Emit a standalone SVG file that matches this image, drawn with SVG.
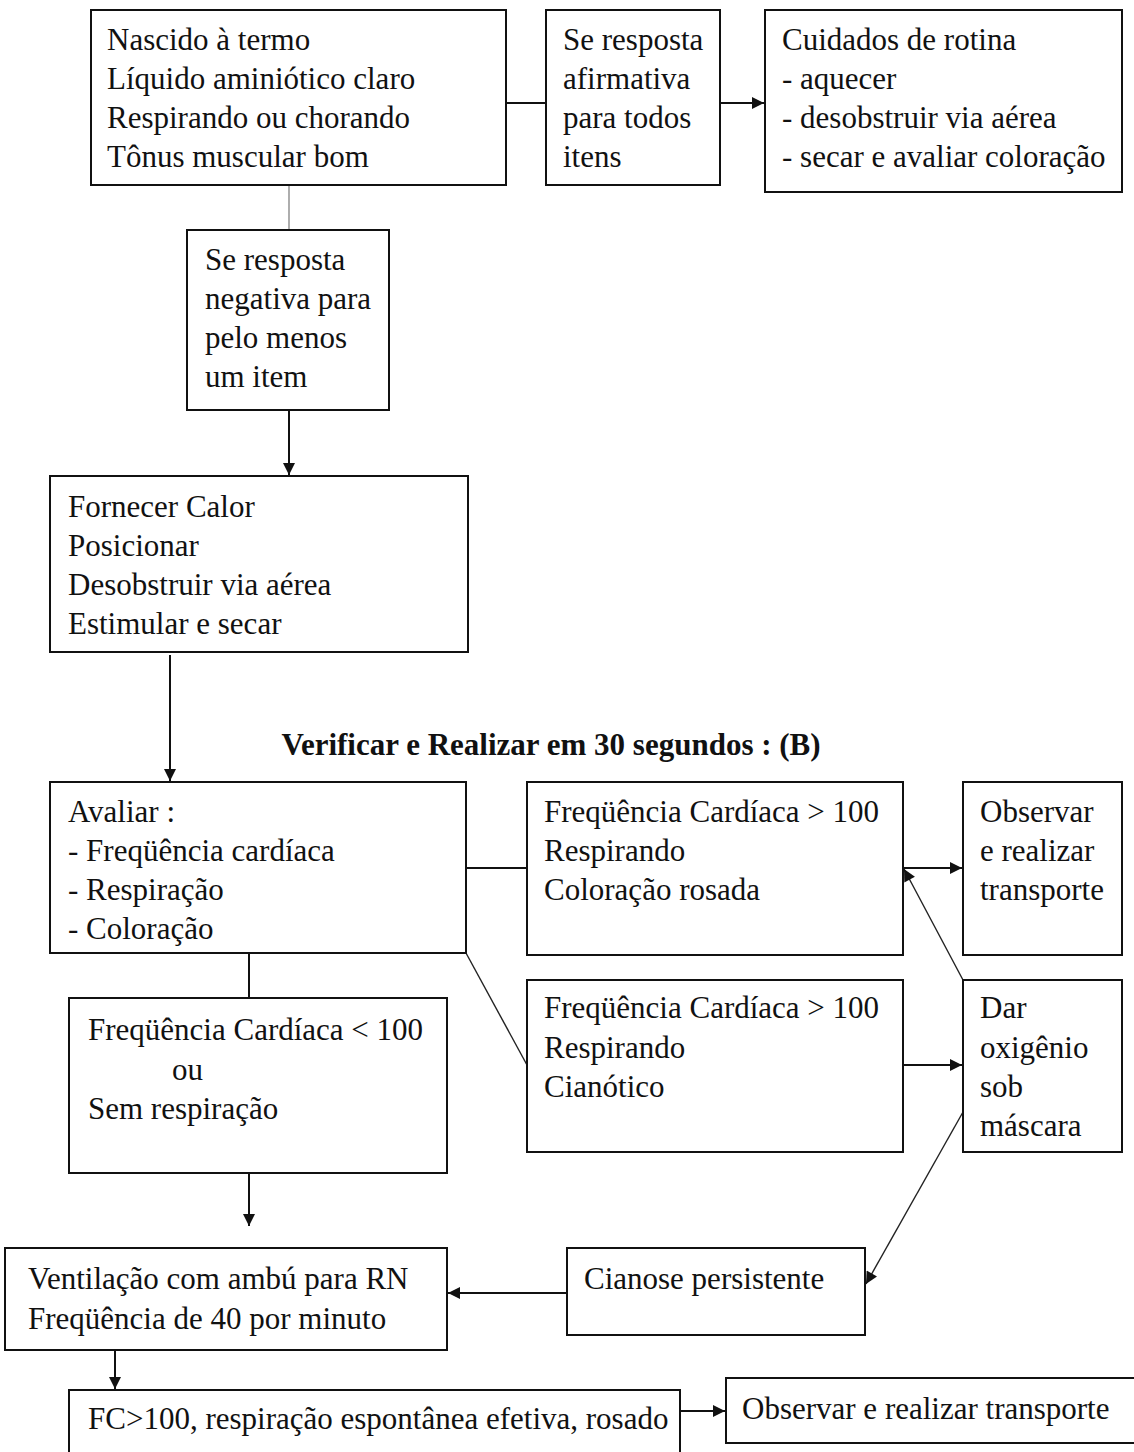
<svg xmlns="http://www.w3.org/2000/svg" width="1134" height="1452" viewBox="0 0 1134 1452">
<style>
.box{fill:#fff;stroke:#111;stroke-width:2}
.t{font-family:"Liberation Serif","Times New Roman",serif;font-size:31px;fill:#111}
.title{font-family:"Liberation Serif","Times New Roman",serif;font-size:31px;font-weight:bold;fill:#111}
.c{fill:none;stroke:#111;stroke-width:2}
.thin{fill:none;stroke:#222;stroke-width:1.4}
</style>
<defs>
<marker id="ah2" viewBox="0 0 10 10" refX="10" refY="5" markerWidth="14" markerHeight="12" orient="auto" markerUnits="userSpaceOnUse">
<path d="M0,0 L10,5 L0,10 z" fill="#111"/>
</marker>
</defs>
<rect width="1134" height="1452" fill="#fff"/>
<g id="connectors">
<line class="c" x1="506" y1="103" x2="546" y2="103"/>
<line class="c" x1="720" y1="103" x2="764" y2="103" marker-end="url(#ah2)"/>
<line x1="289" y1="185" x2="289" y2="230" stroke="#777" stroke-width="1.2"/>
<line class="c" x1="289" y1="410" x2="289" y2="475" marker-end="url(#ah2)"/>
<line class="c" x1="170" y1="655" x2="170" y2="781" marker-end="url(#ah2)"/>
<line class="c" x1="466" y1="868" x2="527" y2="868"/>
<line class="c" x1="903" y1="868" x2="962" y2="868" marker-end="url(#ah2)"/>
<line class="thin" x1="466" y1="953" x2="527" y2="1065"/>
<line class="c" x1="903" y1="1065" x2="962" y2="1065" marker-end="url(#ah2)"/>
<line class="thin" x1="963" y1="980" x2="904" y2="869" marker-end="url(#ah2)"/>
<line class="thin" x1="963" y1="1112" x2="866" y2="1284" marker-end="url(#ah2)"/>
<line class="c" x1="249" y1="953" x2="249" y2="998"/>
<line class="c" x1="249" y1="1173" x2="249" y2="1226" marker-end="url(#ah2)"/>
<line class="c" x1="567" y1="1293" x2="448" y2="1293" marker-end="url(#ah2)"/>
<line class="c" x1="115" y1="1350" x2="115" y2="1389" marker-end="url(#ah2)"/>
<line class="c" x1="680" y1="1411" x2="725" y2="1411" marker-end="url(#ah2)"/>
</g>
<g id="n1"><rect class="box" x="91" y="10" width="415" height="175"/>
<text class="t" x="107" y="50">Nascido à termo</text>
<text class="t" x="107" y="89">Líquido aminiótico claro</text>
<text class="t" x="107" y="128">Respirando ou chorando</text>
<text class="t" x="107" y="167">Tônus muscular bom</text></g>
<g id="n2"><rect class="box" x="546" y="10" width="174" height="175"/>
<text class="t" x="563" y="50">Se resposta</text>
<text class="t" x="563" y="89">afirmativa</text>
<text class="t" x="563" y="128">para todos</text>
<text class="t" x="563" y="167">itens</text></g>
<g id="n3"><rect class="box" x="765" y="10" width="357" height="182"/>
<text class="t" x="782" y="50">Cuidados de rotina</text>
<text class="t" x="782" y="89">- aquecer</text>
<text class="t" x="782" y="128">- desobstruir via aérea</text>
<text class="t" x="782" y="167">- secar e avaliar coloração</text></g>
<g id="n4"><rect class="box" x="187" y="230" width="202" height="180"/>
<text class="t" x="205" y="270">Se resposta</text>
<text class="t" x="205" y="309">negativa para</text>
<text class="t" x="205" y="348">pelo menos</text>
<text class="t" x="205" y="387">um item</text></g>
<g id="n5"><rect class="box" x="50" y="476" width="418" height="176"/>
<text class="t" x="68" y="517">Fornecer Calor</text>
<text class="t" x="68" y="556">Posicionar</text>
<text class="t" x="68" y="595">Desobstruir via aérea</text>
<text class="t" x="68" y="634">Estimular e secar</text></g>
<g id="title"><text class="title" x="551" y="755" text-anchor="middle">Verificar e Realizar em 30 segundos : (B)</text></g>
<g id="n6"><rect class="box" x="50" y="782" width="416" height="171"/>
<text class="t" x="68" y="822">Avaliar :</text>
<text class="t" x="68" y="861">- Freqüência cardíaca</text>
<text class="t" x="68" y="900">- Respiração</text>
<text class="t" x="68" y="939">- Coloração</text></g>
<g id="n7"><rect class="box" x="527" y="782" width="376" height="173"/>
<text class="t" x="544" y="822">Freqüência Cardíaca &gt; 100</text>
<text class="t" x="544" y="861">Respirando</text>
<text class="t" x="544" y="900">Coloração rosada</text></g>
<g id="n8"><rect class="box" x="963" y="782" width="159" height="173"/>
<text class="t" x="980" y="822">Observar</text>
<text class="t" x="980" y="861">e realizar</text>
<text class="t" x="980" y="900">transporte</text></g>
<g id="n9"><rect class="box" x="527" y="980" width="376" height="172"/>
<text class="t" x="544" y="1018">Freqüência Cardíaca &gt; 100</text>
<text class="t" x="544" y="1058">Respirando</text>
<text class="t" x="544" y="1097">Cianótico</text></g>
<g id="n10"><rect class="box" x="963" y="980" width="159" height="172"/>
<text class="t" x="980" y="1018">Dar</text>
<text class="t" x="980" y="1058">oxigênio</text>
<text class="t" x="980" y="1097">sob</text>
<text class="t" x="980" y="1136">máscara</text></g>
<g id="n11"><rect class="box" x="69" y="998" width="378" height="175"/>
<text class="t" x="88" y="1040">Freqüência Cardíaca &lt; 100</text>
<text class="t" x="172" y="1080">ou</text>
<text class="t" x="88" y="1119">Sem respiração</text></g>
<g id="n12"><rect class="box" x="5" y="1248" width="442" height="102"/>
<text class="t" x="28" y="1289">Ventilação com ambú para RN</text>
<text class="t" x="28" y="1329">Freqüência de 40 por minuto</text></g>
<g id="n13"><rect class="box" x="567" y="1248" width="298" height="87"/>
<text class="t" x="584" y="1289">Cianose persistente</text></g>
<g id="n14"><rect class="box" x="69" y="1390" width="611" height="80"/>
<text class="t" x="88" y="1429">FC&gt;100, respiração espontânea efetiva, rosado</text></g>
<g id="n15"><rect class="box" x="726" y="1378" width="420" height="65"/>
<text class="t" x="742" y="1419">Observar e realizar transporte</text></g>
</svg>
